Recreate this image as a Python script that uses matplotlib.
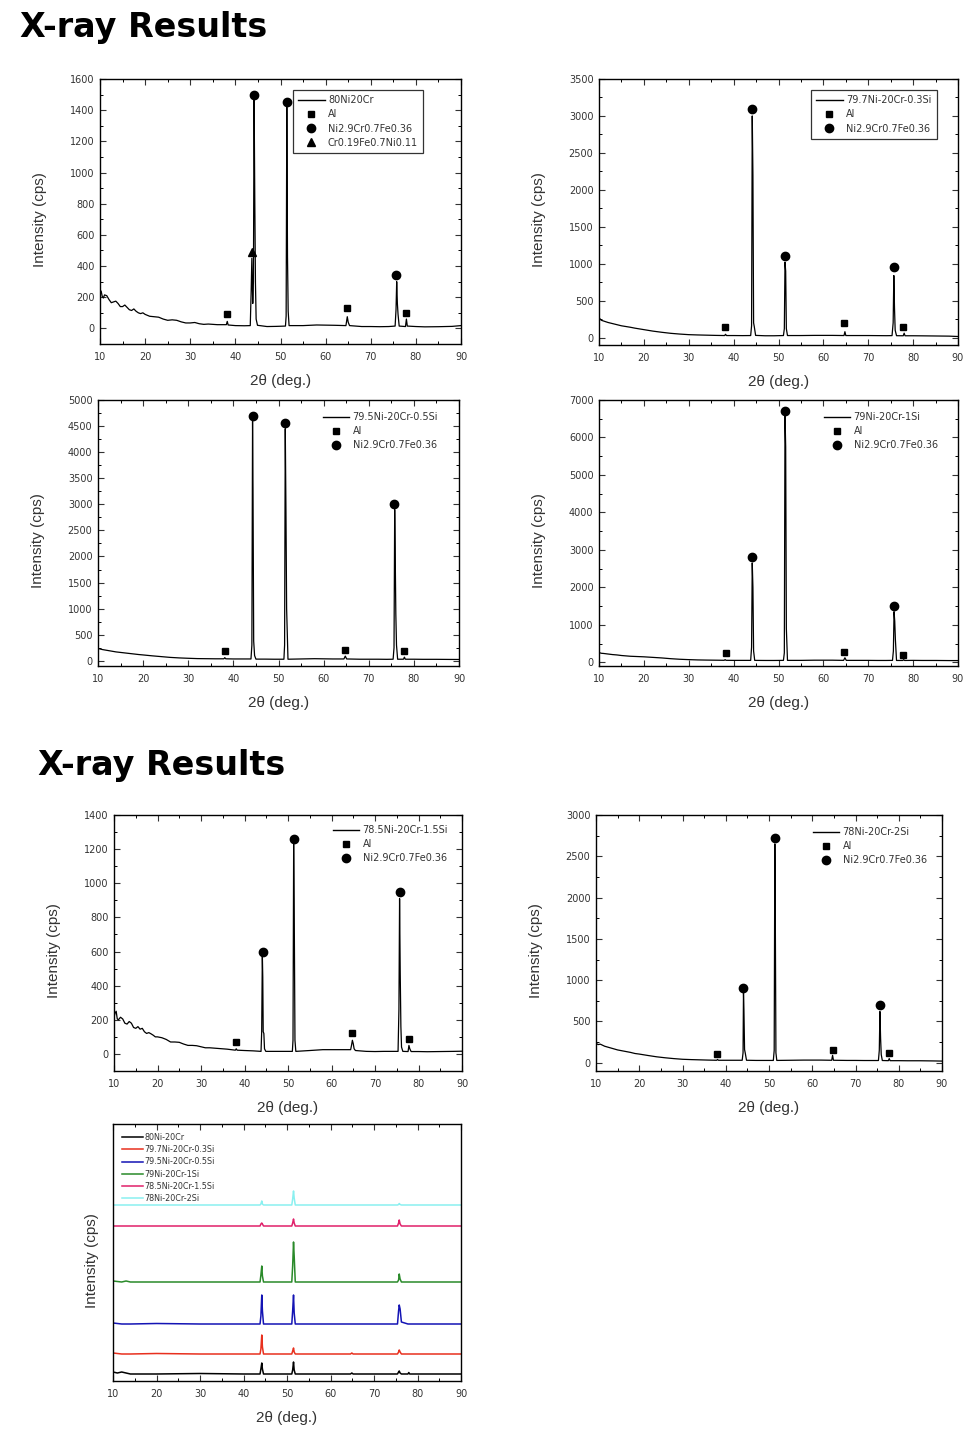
import matplotlib
matplotlib.use('Agg')
import matplotlib.pyplot as plt
from matplotlib.lines import Line2D
from matplotlib.ticker import MultipleLocator

# ---- data ----
# shared background sample positions (2theta, deg.)
bg_x = [10, 10.5, 11, 12, 13, 14, 15, 16, 17, 18, 19, 20, 22, 24, 26, 28, 30, 32, 34, 36,
        40, 42, 47, 49, 55, 58, 62, 68, 70, 72, 74, 80, 82, 85, 88, 90]
# extra low-angle points where the background is noisy (panels 1 and 5)
noise_x = [10.25, 10.75, 11.5, 12.5, 13.5, 14.5, 15.5, 16.5, 17.5, 18.5, 19.5, 21, 23, 25, 27, 29, 31, 33]

# 80Ni20Cr
bg1_y = [230, 205, 215, 185, 170, 160, 140, 135, 115, 110, 95, 90, 75, 60, 55, 42, 35, 30, 28, 24,
         18, 17, 12, 13, 18, 22, 20, 12, 12, 11, 12, 12, 10, 11, 13, 18]
noise1_y = [240, 195, 210, 165, 175, 140, 150, 120, 125, 100, 100, 78, 72, 52, 52, 35, 38, 26]
pk1_x = [38.0, 38.2, 38.4, 43.3, 43.5, 43.65, 43.85, 44.0, 44.15, 44.3, 44.45, 44.6, 44.9,
         51.1, 51.25, 51.4, 51.55, 51.7, 51.9, 64.5, 64.8, 65.0, 65.3,
         75.4, 75.6, 75.75, 75.9, 76.05, 76.3, 77.7, 77.9, 78.1]
pk1_y = [24, 45, 22, 18, 240, 450, 160, 300, 1490, 830, 290, 60, 20,
         15, 80, 1420, 460, 110, 18, 18, 75, 40, 18,
         15, 120, 300, 160, 90, 15, 12, 60, 15]
al1_x, al1_y = [38.1, 64.8, 77.8], [90, 130, 100]
ni1_x, ni1_y = [44.1, 51.35, 75.6], [1500, 1450, 340]
cr1_x, cr1_y = [43.6], [490]

# 79.7Ni-20Cr-0.3Si
bg2_y = [270, 235, 225, 205, 190, 175, 160, 150, 140, 128, 118, 108, 88, 72, 58, 48, 40, 36, 33, 30,
         28, 27, 25, 25, 28, 30, 30, 28, 28, 27, 26, 25, 24, 22, 20, 15]
pk2_x = [38.0, 38.2, 38.4, 43.8, 44.0, 44.15, 44.3, 44.45, 44.6, 44.9,
         51.1, 51.3, 51.45, 51.6, 51.75, 52.0, 64.6, 64.8, 65.0,
         75.3, 75.55, 75.7, 75.85, 76.0, 76.3, 77.8, 78.0, 78.2]
pk2_y = [28, 45, 28, 28, 160, 3000, 2200, 200, 150, 30,
         28, 120, 1020, 900, 120, 28, 28, 80, 28,
         27, 200, 840, 400, 100, 26, 25, 60, 25]
al2_x, al2_y = [38.0, 64.7, 77.8], [140, 200, 140]
ni2_x, ni2_y = [44.15, 51.5, 75.7], [3100, 1100, 950]

# 79.5Ni-20Cr-0.5Si
bg3_y = [240, 225, 215, 200, 185, 170, 160, 150, 140, 130, 120, 112, 95, 80, 65, 55, 48, 42, 40, 38,
         35, 35, 32, 30, 35, 40, 35, 30, 30, 30, 28, 30, 28, 28, 26, 25]
pk3_x = [37.9, 38.1, 38.3, 43.9, 44.1, 44.25, 44.35, 44.5, 44.7, 45.0,
         51.2, 51.35, 51.5, 51.65, 51.8, 52.1, 64.5, 64.8, 65.1,
         75.4, 75.6, 75.75, 75.85, 76.0, 76.15, 76.4, 77.7, 77.9, 78.1]
pk3_y = [38, 60, 38, 35, 300, 4600, 3300, 380, 100, 32,
         30, 300, 4450, 2900, 1000, 30, 35, 90, 35,
         30, 250, 2900, 2150, 900, 300, 30, 30, 70, 30]
al3_x, al3_y = [38.1, 64.8, 77.9], [180, 200, 180]
ni3_x, ni3_y = [44.3, 51.5, 75.7], [4700, 4550, 3000]

# 79Ni-20Cr-1Si
bg4_y = [260, 240, 235, 220, 205, 195, 180, 170, 160, 155, 150, 145, 130, 115, 95, 80, 70, 62, 58, 55,
         50, 50, 48, 48, 50, 55, 55, 50, 50, 48, 48, 50, 48, 48, 45, 45]
pk4_x = [37.9, 38.1, 38.3, 43.8, 44.0, 44.15, 44.3, 44.45, 44.7,
         51.1, 51.3, 51.45, 51.6, 51.75, 52.0, 64.5, 64.8, 65.1,
         75.4, 75.6, 75.75, 75.9, 76.05, 76.3, 77.7, 77.9, 78.1]
pk4_y = [52, 70, 52, 50, 400, 2650, 2000, 300, 50,
         50, 250, 6600, 5750, 900, 50, 50, 120, 50,
         50, 300, 1350, 1100, 600, 48, 48, 70, 48]
al4_x, al4_y = [38.2, 64.7, 77.8], [250, 280, 200]
ni4_x, ni4_y = [44.15, 51.5, 75.8], [2800, 6700, 1500]

# 78.5Ni-20Cr-1.5Si
bg5_y = [215, 250, 200, 205, 175, 180, 150, 145, 130, 125, 110, 100, 85, 70, 58, 50, 42, 36, 32, 28,
         20, 18, 15, 15, 20, 25, 25, 15, 14, 15, 15, 14, 13, 14, 15, 16]
noise5_y = [240, 205, 215, 180, 190, 155, 160, 150, 120, 118, 100, 95, 70, 68, 50, 48, 36, 34]
pk5_x = [37.9, 38.1, 38.3, 43.8, 43.95, 44.1, 44.2, 44.3, 44.45, 44.6, 44.9,
         51.0, 51.15, 51.3, 51.45, 51.6, 51.8, 64.4, 64.6, 64.8, 65.0, 65.2, 65.5,
         75.3, 75.5, 75.65, 75.8, 75.95, 76.1, 76.4, 77.6, 77.8, 78.0, 78.3]
pk5_y = [22, 30, 22, 15, 130, 580, 450, 130, 120, 30, 15,
         15, 80, 1230, 750, 80, 15, 25, 50, 80, 60, 30, 20,
         15, 260, 910, 470, 160, 40, 15, 14, 50, 30, 14]
al5_x, al5_y = [38.1, 64.8, 77.8], [70, 120, 90]
ni5_x, ni5_y = [44.2, 51.35, 75.8], [600, 1260, 950]

# 78Ni-20Cr-2Si
bg6_y = [235, 220, 225, 200, 185, 170, 155, 145, 135, 125, 112, 105, 88, 72, 60, 50, 42, 38, 35, 32,
         30, 30, 28, 28, 30, 32, 32, 28, 28, 27, 27, 25, 24, 24, 22, 20]
pk6_x = [37.9, 38.1, 38.3, 43.8, 44.0, 44.1, 44.2, 44.35, 44.5, 44.8,
         51.0, 51.2, 51.35, 51.45, 51.6, 51.8, 64.5, 64.7, 64.9,
         75.3, 75.5, 75.65, 75.8, 75.95, 76.2, 77.6, 77.8, 78.0]
pk6_y = [30, 40, 30, 30, 120, 850, 650, 160, 120, 30,
         28, 150, 2650, 1870, 120, 28, 30, 90, 30,
         27, 150, 620, 300, 100, 27, 25, 50, 25]
al6_x, al6_y = [37.9, 64.7, 77.8], [110, 160, 120]
ni6_x, ni6_y = [44.1, 51.4, 75.7], [900, 2720, 700]

# stacked comparison (arbitrary units, offsets included)
st_x = [10, 11, 12, 13, 14, 20, 30, 40, 43.8, 44.0, 44.2, 44.35, 44.6,
        51.1, 51.3, 51.5, 51.65, 51.9, 64.6, 64.9, 65.2,
        75.4, 75.65, 75.8, 76.0, 76.3, 77.8, 78.0, 78.2, 90]
st_black = [9, 8, 9, 8, 7, 7, 7.5, 7, 7, 12, 18, 12, 7, 7, 11, 19, 11, 7, 7, 8, 7,
            7, 9, 10, 8, 7, 7, 8.5, 7, 7]
st_red = [28, 27.5, 27, 27, 27, 27.5, 27, 27, 27, 32, 46, 34, 27, 27, 30, 33, 29, 27, 27, 28, 27,
          27, 29, 31, 29, 27, 27, 27, 27, 27]
st_blue = [58, 57.5, 57, 57, 57, 57.5, 57, 57, 57, 65, 86, 70, 57, 57, 70, 86, 68, 57, 57, 57, 57,
           57, 70, 76, 72, 59, 57, 57, 57, 57]
st_green = [100, 99.5, 99, 100, 99, 99, 99, 99, 99, 106, 115, 105, 99, 99, 115, 139, 125, 99, 99, 99, 99,
            99, 101, 107, 102, 99, 99, 99, 99, 99]
st_crimson = [155, 155, 155, 155, 155, 155, 155, 155, 155, 157, 158, 157, 155, 155, 158, 162, 158, 155, 155, 155, 155,
              155, 158, 161, 157, 155, 155, 155, 155, 155]
st_cyan = [176, 176, 176, 176, 176, 176, 176, 176, 176, 177, 180, 177, 176, 176, 182, 190, 183, 176, 176, 176, 176,
           176, 176.5, 177.5, 176.5, 176, 176, 176, 176, 176]

samples = ['80Ni-20Cr', '79.7Ni-20Cr-0.3Si', '79.5Ni-20Cr-0.5Si',
           '79Ni-20Cr-1Si', '78.5Ni-20Cr-1.5Si', '78Ni-20Cr-2Si']
st_colors = ['black', '#e8301e', '#1414b4', '#2a8a2a', '#e0206a', '#8af0f0']

W, H = 974, 1432
fig = plt.figure(figsize=(W / 100, H / 100), dpi=100)
fig.patch.set_facecolor('white')

TICK_FONT = 'DejaVu Sans'
LABEL_FONT = 'Liberation Sans'


def px_axes(x0, y0, x1, y1):
    ax = fig.add_axes([x0 / W, 1 - y1 / H, (x1 - x0) / W, (y1 - y0) / H])
    return ax, (x0, y0, x1, y1)


def style(ax, box, ymax, ystep, yticks=True):
    x0, y0, x1, y1 = box
    ax.set_xlim(10, 90)
    ax.xaxis.set_major_locator(MultipleLocator(10))
    ax.xaxis.set_minor_locator(MultipleLocator(5))
    if yticks:
        ax.set_ylim(-100, ymax)
        ax.yaxis.set_major_locator(MultipleLocator(ystep))
        ax.yaxis.set_minor_locator(MultipleLocator(ystep / 2))
        ax.tick_params(which='both', direction='in', top=True, right=True)
    else:
        ax.set_yticks([])
        ax.tick_params(which='both', direction='in', top=True)
    ax.tick_params(which='major', length=4.5, width=0.8, labelsize=7, colors='#333333')
    ax.tick_params(which='minor', length=2.5, width=0.7)
    ax.tick_params(axis='x', pad=6)
    ax.tick_params(axis='y', pad=4)
    for lab in ax.get_xticklabels() + ax.get_yticklabels():
        lab.set_fontfamily(TICK_FONT)
    for s in ax.spines.values():
        s.set_linewidth(1.0)
    ax.set_xlabel('2θ (deg.)', fontsize=11, family=LABEL_FONT, color='#333333', va='top')
    ax.set_ylabel('Intensity (cps)', fontsize=11, family=LABEL_FONT, color='#333333')
    w, h = x1 - x0, y1 - y0
    ax.xaxis.set_label_coords(0.5, -30 / h)
    if yticks:
        ax.yaxis.set_label_coords(-53 / w, 0.47)
    else:
        ax.yaxis.set_label_coords(-14 / w, 0.47)


def frac(box, px, py):
    x0, y0, x1, y1 = box
    return (px - x0) / (x1 - x0), (y1 - py) / (y1 - y0)


def pattern(bg_y, pk_x, pk_y, nz_y=None):
    xs, ys = bg_x + pk_x, bg_y + pk_y
    if nz_y is not None:
        xs, ys = xs + noise_x, ys + nz_y
    pts = sorted(zip(xs, ys))
    return [p[0] for p in pts], [p[1] for p in pts]


def xrd_panel(box_px, ymax, ystep, name, bg_y, pk_x, pk_y, al, ni, cr=None,
              leg_at=(0, 0), boxed=False, nz_y=None):
    ax, box = px_axes(*box_px)
    x, y = pattern(bg_y, pk_x, pk_y, nz_y)
    ax.plot(x, y, color='black', lw=0.9)
    ax.plot(al[0], al[1], ls='none', marker='s', ms=4.3, color='black')
    ax.plot(ni[0], ni[1], ls='none', marker='o', ms=6, color='black')
    handles = [Line2D([], [], color='black', lw=1, label=name),
               Line2D([], [], ls='none', marker='s', ms=4.3, color='black', label='Al'),
               Line2D([], [], ls='none', marker='o', ms=6, color='black', label='Ni2.9Cr0.7Fe0.36')]
    if cr is not None:
        ax.plot(cr[0], cr[1], ls='none', marker='^', ms=5.5, color='black')
        handles.append(Line2D([], [], ls='none', marker='^', ms=5.5, color='black',
                              label='Cr0.19Fe0.7Ni0.11'))
    style(ax, box, ymax, ystep)
    leg = ax.legend(handles=handles, loc='upper left', bbox_to_anchor=frac(box, *leg_at),
                    borderaxespad=0, frameon=boxed, fancybox=False,
                    prop={'family': TICK_FONT, 'size': 7}, handlelength=2.7,
                    handletextpad=0.35, labelspacing=0.42,
                    borderpad=0.55 if boxed else 0)
    if boxed:
        leg.get_frame().set_edgecolor('black')
        leg.get_frame().set_linewidth(0.9)
    for t in leg.get_texts():
        t.set_color('#333333')
    return ax


# titles
fig.text(20 / W, 1 - 37 / H, 'X-ray Results', fontsize=24, fontweight='bold',
         family='DejaVu Sans', va='baseline', ha='left')
fig.text(38 / W, 1 - 775 / H, 'X-ray Results', fontsize=24, fontweight='bold',
         family='DejaVu Sans', va='baseline', ha='left')

xrd_panel((100, 79, 461, 344), 1600, 200, '80Ni20Cr', bg1_y, pk1_x, pk1_y,
          (al1_x, al1_y), (ni1_x, ni1_y), (cr1_x, cr1_y), leg_at=(293, 90), boxed=True,
          nz_y=noise1_y)
xrd_panel((599, 79, 958, 345), 3500, 500, samples[1], bg2_y, pk2_x, pk2_y,
          (al2_x, al2_y), (ni2_x, ni2_y), leg_at=(811, 90), boxed=True)
xrd_panel((98, 400, 459, 666), 5000, 500, samples[2], bg3_y, pk3_x, pk3_y,
          (al3_x, al3_y), (ni3_x, ni3_y), leg_at=(323, 412))
xrd_panel((599, 400, 958, 666), 7000, 1000, samples[3], bg4_y, pk4_x, pk4_y,
          (al4_x, al4_y), (ni4_x, ni4_y), leg_at=(824, 412))
xrd_panel((114, 815, 462, 1071), 1400, 200, samples[4], bg5_y, pk5_x, pk5_y,
          (al5_x, al5_y), (ni5_x, ni5_y), leg_at=(333, 825), nz_y=noise5_y)
xrd_panel((596, 815, 942, 1071), 3000, 500, samples[5], bg6_y, pk6_x, pk6_y,
          (al6_x, al6_y), (ni6_x, ni6_y), leg_at=(813, 827))

# stacked comparison
ax7, box7 = px_axes(113, 1124, 461, 1381)
for ys, c, name in zip([st_black, st_red, st_blue, st_green, st_crimson, st_cyan], st_colors, samples):
    ax7.plot(st_x, ys, color=c, lw=1.1, label=name)
style(ax7, box7, 0, 0, yticks=False)
ax7.set_ylim(0, 257)
leg7 = ax7.legend(loc='upper left', bbox_to_anchor=frac(box7, 122, 1133), borderaxespad=0,
                  frameon=False, prop={'family': TICK_FONT, 'size': 5.8}, handlelength=2.6,
                  handletextpad=0.2, labelspacing=0.4, borderpad=0)
for t in leg7.get_texts():
    t.set_color('#333333')

fig.savefig('out.png', dpi=100, facecolor='white')
